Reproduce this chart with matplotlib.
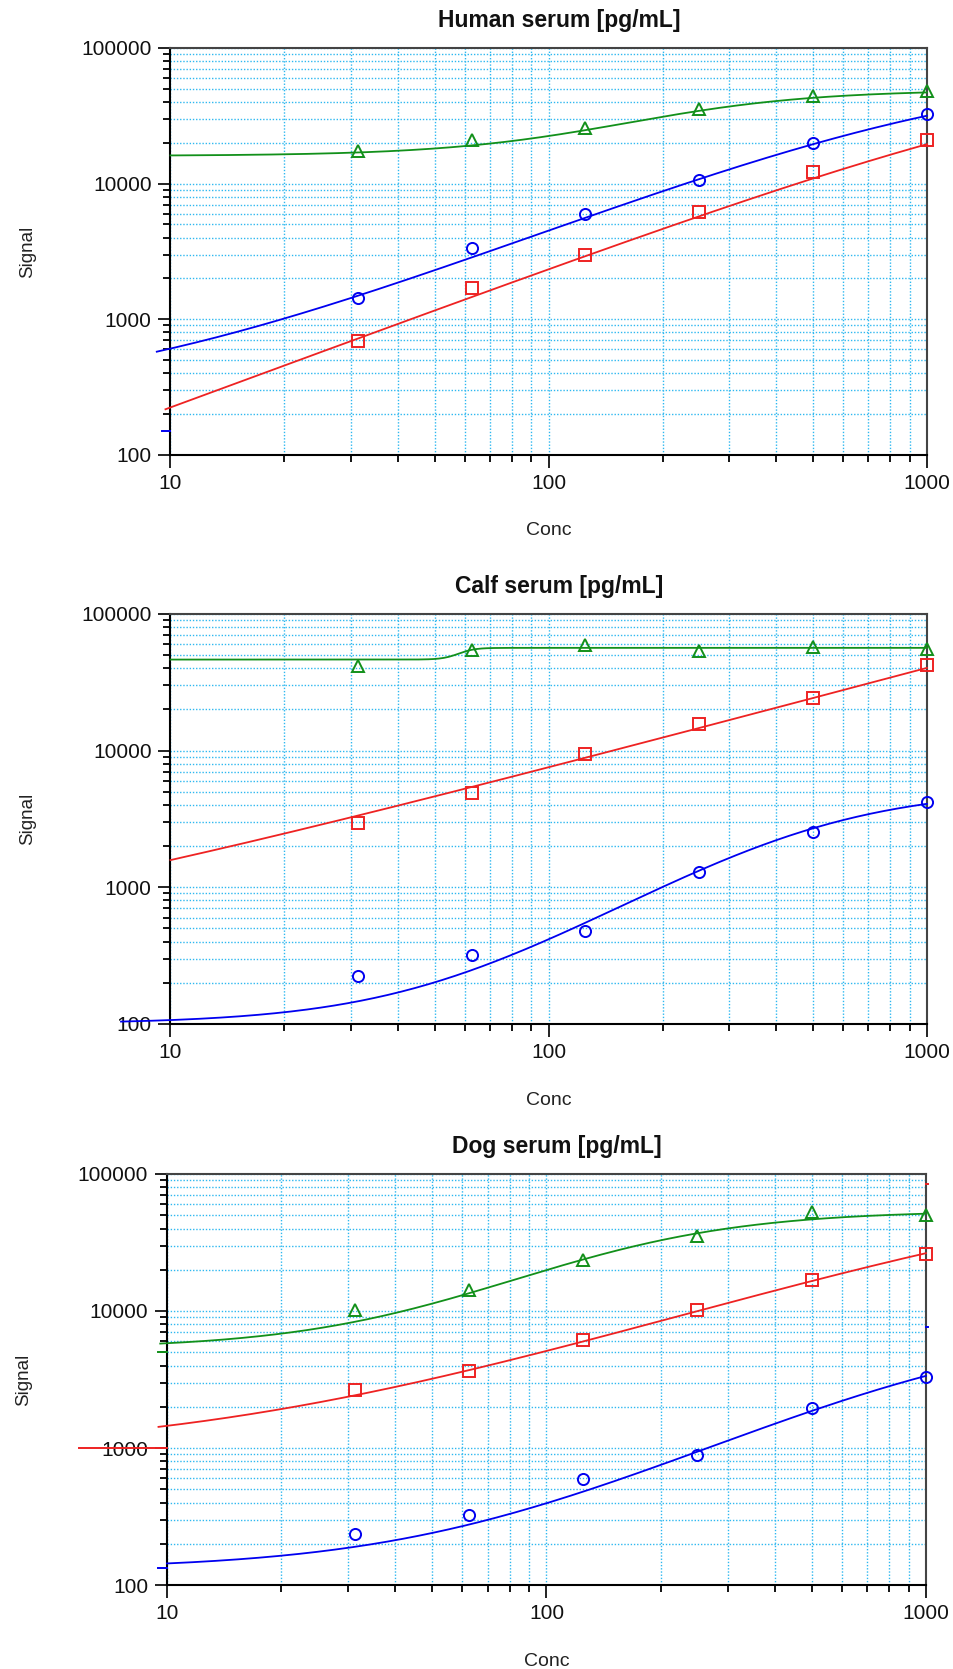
"""
Standard curves (Signal vs Conc) for three sera, log-log, 4PL fits
"""
import matplotlib
matplotlib.use('Agg')
import matplotlib.pyplot as plt
from matplotlib.ticker import FixedLocator, FuncFormatter, NullFormatter
import numpy as np

plt.rcParams['font.family'] = ['Liberation Sans', 'DejaVu Sans']

# ─────────────────────────────────────────────────────────────────────────────
# DATA
# ─────────────────────────────────────────────────────────────────────────────
conc = [31.25, 62.5, 125, 250, 500, 1000]

titles = ['Human serum [pg/mL]', 'Calf serum [pg/mL]', 'Dog serum [pg/mL]']

human_blue = [1430, 3340, 5930, 10700, 19800, 32800]
human_red = [686, 1690, 3000, 6150, 12200, 20900]
human_green = [17450, 20900, 25500, 35200, 44500, 47900]

calf_blue = [226, 320, 482, 1288, 2525, 4190]
calf_red = [2960, 4900, 9460, 15700, 24200, 42600]
calf_green = [41200, 54500, 58700, 53900, 57000, 55400]

dog_blue = [237, 325, 590, 885, 1960, 3300]
dog_red = [2640, 3660, 6110, 10100, 16850, 26000]
dog_green = [10100, 14300, 23700, 35200, 52800, 49900]

# 4PL fit parameters (A, B, C, D): y = D + (A - D) / (1 + (x/C)^B)
human_blue_fit = (250, 1.1, 1200, 70000)
human_red_fit = (0, 1.03, 3000, 80000)
human_green_fit = (16000, 1.8, 220, 49000)

calf_blue_fit = (100, 1.7, 500, 5300)
calf_red_fit = (250, 0.74, 1.73e6, 1e7)
calf_green_fit = (46300, 20, 58, 56400)

dog_blue_fit = (130, 1.3, 1321, 8000)
dog_red_fit = (900, 0.9, 3000, 95000)
dog_green_fit = (5300, 1.6, 170, 54000)

# where each fitted curve starts on the left (blue, red, green)
curve_start = [[9.2, 9.7, 10.0],
               [7.4, 10.0, 10.0],
               [10.0, 9.5, 9.6]]

# stray little marks of the original software: (panel, series, signal, x0, x1)
stray_marks = [
    (0, 0, 149, 9.5, 10),
    (2, 1, 1000, 5.87, 10),
    (2, 0, 134, 9.5, 10),
    (2, 2, 5050, 9.5, 10),
    (2, 1, 85000, 1000, 1010),
    (2, 0, 7600, 1000, 1010),
]

panels = [
    [(human_blue, human_blue_fit), (human_red, human_red_fit), (human_green, human_green_fit)],
    [(calf_blue, calf_blue_fit), (calf_red, calf_red_fit), (calf_green, calf_green_fit)],
    [(dog_blue, dog_blue_fit), (dog_red, dog_red_fit), (dog_green, dog_green_fit)],
]

COLORS = ['#0000F0', '#EE2222', '#12901A']
MARKERS = ['o', 's', '^']
MSIZE = [8, 8, 8.5]
GRID = '#2EB8F0'


def fourpl(x, a, b, c, d):
    return d + (a - d) / (1.0 + (x / c) ** b)


# axes rectangles in figure fraction (left, bottom, width, height)
rects = [
    (0.1787, 0.7274, 0.793, 0.2439),
    (0.1787, 0.3865, 0.793, 0.2457),
    (0.1750, 0.0503, 0.7956, 0.2463),
]

fig = plt.figure(figsize=(9.54, 16.69), dpi=100)
fig.patch.set_facecolor('white')

for p, (rect, title, series) in enumerate(zip(rects, titles, panels)):
    ax = fig.add_axes(rect)
    ax.set_xscale('log')
    ax.set_yscale('log')
    ax.set_xlim(10, 1000)
    ax.set_ylim(100, 100000)

    for s, (vals, fit) in enumerate(series):
        xs = np.logspace(np.log10(curve_start[p][s]), 3, 300)
        ax.plot(xs, fourpl(xs, *fit), color=COLORS[s], lw=1.3,
                clip_on=False, zorder=3)
        ax.plot(conc, vals, linestyle='none', marker=MARKERS[s],
                ms=MSIZE[s], mfc='none', mec=COLORS[s], mew=1.4,
                clip_on=False, zorder=4)

    for (pp, s, yv, x0, x1) in stray_marks:
        if pp == p:
            ax.plot([x0, x1], [yv, yv], color=COLORS[s], lw=1.4,
                    clip_on=False, zorder=5)

    # ticks
    ax.xaxis.set_major_locator(FixedLocator([10, 100, 1000]))
    ax.xaxis.set_minor_locator(FixedLocator([v * m for m in (10, 100) for v in range(2, 10)]))
    ax.yaxis.set_major_locator(FixedLocator([100, 1000, 10000, 100000]))
    ax.yaxis.set_minor_locator(FixedLocator([v * m for m in (100, 1000, 10000) for v in range(2, 10)]))
    fmt = FuncFormatter(lambda v, pos: f'{int(round(v))}')
    ax.xaxis.set_major_formatter(fmt)
    ax.yaxis.set_major_formatter(fmt)
    ax.xaxis.set_minor_formatter(NullFormatter())
    ax.yaxis.set_minor_formatter(NullFormatter())

    ax.tick_params(axis='both', which='major', direction='out', length=9,
                   width=1.3, labelsize=15, colors='#111')
    ax.tick_params(axis='both', which='minor', direction='out', length=5,
                   width=1.3)
    ax.tick_params(axis='y', which='major', pad=4.5)
    ax.tick_params(axis='x', which='major', pad=5)
    ax.tick_params(top=False, right=False, which='both')

    # grid
    ax.grid(True, which='both', color=GRID, linestyle=(0, (1, 1.3)),
            linewidth=1.0)
    ax.set_axisbelow(True)

    ax.spines['left'].set_color('black')
    ax.spines['bottom'].set_color('black')
    ax.spines['left'].set_linewidth(1.5)
    ax.spines['bottom'].set_linewidth(1.5)
    ax.spines['top'].set_color('#444')
    ax.spines['right'].set_color('#444')
    ax.spines['top'].set_linewidth(1.5)
    ax.spines['right'].set_linewidth(1.5)

    # labels
    ax.text(0.514, 1 + 27 / 407, title, transform=ax.transAxes,
            ha='center', va='center', fontsize=16.5, fontweight='bold',
            color='#111')
    ax.text(0.5, -76 / 407, 'Conc', transform=ax.transAxes,
            ha='center', va='center', fontsize=14, color='#222')
    ax.text(-143 / 756, 0.5, 'Signal', transform=ax.transAxes, rotation=90,
            ha='center', va='center', fontsize=13.5, color='#222')

plt.savefig('out.png', dpi=100, facecolor='white')
plt.close()
print('saved out.png')
